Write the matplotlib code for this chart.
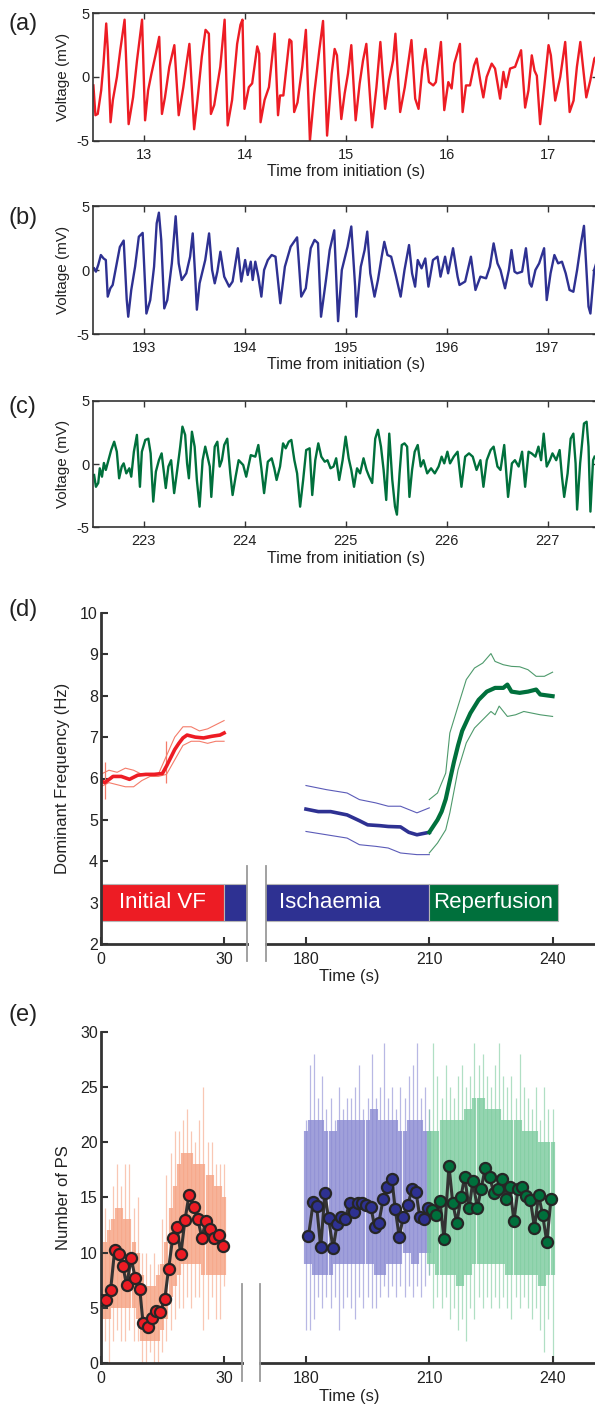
import matplotlib
matplotlib.use('Agg')
import matplotlib.pyplot as plt
from matplotlib.lines import Line2D

plt.rcParams['font.family'] = ['Liberation Sans', 'DejaVu Sans']
plt.rcParams['axes.unicode_minus'] = False

RED = '#ED1C24'
BLUE = '#2E3192'
GREEN = '#00703C'
AXC = '#333333'

# ---------------- (a) electrogram 12.5-17.5 s ----------------
ta = [12.501, 12.521, 12.544, 12.578, 12.601, 12.628, 12.644, 12.671, 12.694, 12.734,
      12.767, 12.810, 12.850, 12.894, 12.933, 12.953, 12.983, 13.013, 13.043, 13.076,
      13.120, 13.153, 13.180, 13.210, 13.253, 13.303, 13.346, 13.392, 13.419, 13.452,
      13.499, 13.532, 13.575, 13.612, 13.645, 13.665, 13.698, 13.758, 13.801, 13.831,
      13.875, 13.925, 13.958, 13.978, 13.998, 14.041, 14.074, 14.124, 14.144, 14.157,
      14.197, 14.240, 14.297, 14.330, 14.350, 14.383, 14.443, 14.463, 14.490, 14.523,
      14.570, 14.606, 14.646, 14.689, 14.739, 14.776, 14.816, 14.862,
      14.891, 14.914, 14.957, 14.990, 15.023, 15.056, 15.099, 15.139, 15.172, 15.205,
      15.262, 15.305, 15.344, 15.391, 15.430, 15.470, 15.493, 15.540, 15.586, 15.619,
      15.652, 15.689, 15.722, 15.762, 15.791, 15.825, 15.868, 15.894, 15.944, 15.977,
      16.017, 16.050, 16.076, 16.132, 16.159, 16.192, 16.232, 16.272, 16.298, 16.338,
      16.364, 16.397, 16.447, 16.480, 16.530, 16.563, 16.589, 16.629, 16.679, 16.738,
      16.778, 16.811, 16.844, 16.871, 16.894, 16.927, 16.967, 17.010, 17.033, 17.076,
      17.126, 17.175, 17.219, 17.258, 17.291, 17.325, 17.384, 17.424, 17.464, 17.52]
va = [-0.66, -3.0, -2.9, -1.05, 1.05, 4.2, 2.1, -3.55, -1.8, 0.0,
      2.1, 4.5, -3.7, -1.6, 1.3, 2.6, 4.5, -3.4, -1.05, 0.26,
      1.85, 3.15, -2.9, -1.6, 0.8, 2.5, -3.0, -0.8, 0.8, 2.6,
      -4.1, -1.8, 1.6, 3.7, 3.4, -2.9, -2.2, 0.8, 4.5, -3.8,
      -1.8, 2.6, 4.1, 4.5, -2.5, -0.8, -0.5, 2.4, 1.85, -3.55,
      -1.8, -0.8, 3.4, -3.0, -1.45, -1.45, 2.95, 2.8, -2.75, -2.0,
      0.8, 3.7, -5.0, -1.3, 2.1, 4.4, -4.6, 0.26,
      2.2, 1.7, -3.3, -1.3, 0.26, 2.5, -3.4, -0.5, 1.3, 2.6,
      -3.95, -0.8, 2.75, -2.5, -0.26, 1.3, 3.4, -2.75, -0.8, 1.05,
      2.9, -1.7, -2.5, 0.8, 2.2, -0.4, -0.66, -0.4, 2.75, -2.6,
      -0.4, -0.9, 1.05, 2.6, -2.75, -0.66, -0.66, 0.9, 1.45, -0.5,
      -1.6, 0.0, 1.05, 0.66, -1.7, 0.4, -0.8, 0.66, 0.8, 2.1,
      -2.4, -1.05, 1.7, 0.5, 0.1, -3.7, -0.8, 2.5, 1.7, -1.85,
      0.0, 2.75, -2.75, -1.85, 0.8, 2.75, -1.6, -0.26, 1.45, 1.9]

# ---------------- (b) electrogram 192.5-197.5 s ----------------
tb = [192.508, 192.526, 192.549, 192.575, 192.602, 192.624, 192.643, 192.669, 192.692, 192.726,
      192.763, 192.801, 192.831, 192.846, 192.876, 192.914, 192.951, 192.989, 193.026, 193.064,
      193.102, 193.128, 193.150, 193.173, 193.203, 193.233, 193.278, 193.316, 193.346, 193.376,
      193.421, 193.459, 193.485, 193.508, 193.526, 193.553, 193.609, 193.647, 193.677, 193.703,
      193.729, 193.759, 193.797, 193.846, 193.880, 193.932, 193.966, 194.004, 194.030, 194.060,
      194.079, 194.105, 194.135, 194.165, 194.192, 194.229, 194.267, 194.305, 194.353, 194.398,
      194.455, 194.519, 194.560, 194.605, 194.654, 194.692, 194.726, 194.756, 194.805, 194.842,
      194.887, 194.925, 194.962, 195.019, 195.056, 195.094, 195.105, 195.150, 195.188, 195.214,
      195.244, 195.286, 195.320, 195.357, 195.383, 195.414, 195.451, 195.496, 195.545, 195.583,
      195.628, 195.658, 195.688, 195.714, 195.752, 195.789, 195.820, 195.865, 195.910, 195.940,
      195.985, 196.015, 196.064, 196.109, 196.128, 196.184, 196.241, 196.286, 196.335, 196.391,
      196.429, 196.466, 196.504, 196.534, 196.579, 196.617, 196.643, 196.673, 196.699, 196.748,
      196.786, 196.823, 196.842, 196.880, 196.917, 196.966, 196.992, 197.030, 197.068, 197.105,
      197.143, 197.180, 197.218, 197.256, 197.293, 197.331, 197.361, 197.406, 197.425, 197.462, 197.52]
vb = [0.13, -0.13, 0.4, 1.17, 0.9, 0.78, -2.08, -1.43, -1.17, 0.26,
      1.8, 2.3, -2.3, -3.65, -1.56, 0.26, 2.6, 2.9, -3.4, -2.35,
      0.26, 3.65, 4.48, 2.35, -3.0, -2.35, 0.52, 4.2, 0.52, -0.78,
      -0.26, 1.04, 2.86, -0.26, -3.1, -1.04, 0.78, 2.86, 0.0, -1.04,
      -0.13, 1.43, -0.52, -1.3, -0.9, 1.7, -0.9, 0.78, -0.39, 0.65,
      -0.78, 0.65, -0.52, -2.08, 0.0, 0.78, 1.17, 1.04, -2.6, 0.26,
      1.82, 2.55, -2.08, -1.43, 1.7, 2.35, 2.1, -3.65, -0.78, 1.56,
      3.1, -4.0, 0.0, 1.82, 3.4, -1.3, -3.65, 0.26, 1.56, 3.0,
      -0.26, -2.08, -0.78, 1.04, 2.2, 1.17, 1.04, -0.39, -2.08, 0.0,
      1.95, -0.26, -1.3, 0.78, 0.13, 0.9, -1.3, 0.78, 1.04, -0.52,
      1.04, -0.26, 1.7, -0.52, -1.17, -0.9, 1.04, -1.56, -0.52, -0.65,
      0.26, 2.08, 0.52, 0.0, -1.43, 0.0, 1.56, -0.13, -0.26, -0.13,
      1.7, -1.04, -1.3, 0.0, 0.52, 1.7, -2.35, -0.26, 1.17, 0.52,
      0.65, -0.26, -1.56, -1.7, 0.0, 2.08, 3.45, -2.86, -3.4, 0.0, 1.5]

# ---------------- (c) electrogram 222.5-227.5 s ----------------
tc = [222.508, 222.526, 222.549, 222.564, 222.586, 222.605, 222.624, 222.650, 222.677, 222.707,
      222.733, 222.756, 222.782, 222.801, 222.827, 222.857, 222.876, 222.902, 222.932, 222.962,
      222.981, 223.015, 223.045, 223.068, 223.094, 223.120, 223.150, 223.177, 223.195, 223.218,
      223.244, 223.271, 223.301, 223.331, 223.361, 223.383, 223.410, 223.429, 223.447, 223.477,
      223.504, 223.526, 223.553, 223.583, 223.609, 223.628, 223.654, 223.669, 223.703, 223.729,
      223.752, 223.774, 223.797, 223.827, 223.857, 223.880, 223.910, 223.940, 223.985, 224.015,
      224.060, 224.105, 224.135, 224.165, 224.192, 224.229, 224.267, 224.293, 224.316, 224.350,
      224.380, 224.406, 224.436, 224.462, 224.492, 224.519, 224.549, 224.579, 224.609, 224.643,
      224.669, 224.699, 224.729, 224.759, 224.793, 224.820, 224.850, 224.880, 224.906, 224.936,
      224.970, 225.000, 225.030, 225.056, 225.083, 225.113, 225.143, 225.177, 225.207, 225.233,
      225.263, 225.293, 225.320, 225.350, 225.376, 225.402, 225.432, 225.462, 225.489, 225.508,
      225.534, 225.556, 225.583, 225.609, 225.632, 225.658, 225.684, 225.714, 225.744, 225.771,
      225.808, 225.846, 225.883, 225.921, 225.951, 225.977, 226.008, 226.034, 226.071, 226.109,
      226.147, 226.184, 226.222, 226.259, 226.297, 226.335, 226.365, 226.398, 226.436, 226.466,
      226.504, 226.534, 226.571, 226.609, 226.647, 226.677, 226.714, 226.748, 226.778, 226.812,
      226.842, 226.880, 226.910, 226.936, 226.962, 226.992, 227.023, 227.049, 227.086, 227.120,
      227.143, 227.165, 227.199, 227.229, 227.256, 227.278, 227.293, 227.323, 227.361, 227.387,
      227.406, 227.425, 227.451, 227.466]
vc = [-0.87, -1.8, -1.5, -0.34, -1.0, 0.08, -0.47, 0.3, 1.1, 1.76,
      0.97, -1.13, -0.2, 0.05, -0.74, -0.34, -1.0, 0.97, 2.3, -1.8,
      0.97, 1.9, 2.0, 0.84, -2.97, -0.6, 0.3, 0.84, -0.34, -1.9,
      -0.2, 0.3, -2.3, -0.5, 1.37, 2.95, 2.3, 0.05, -1.13, 2.55,
      1.37, -1.26, -3.37, 0.3, 1.37, 0.7, -0.2, -2.6, 1.37, 1.76,
      -0.2, 0.3, 1.5, 2.0, -0.74, -2.45, -1.0, 0.3, -0.08, -1.0,
      0.7, 0.58, 1.5, -0.34, -2.3, 0.18, 0.45, -0.34, -1.26, -0.2,
      1.63, 1.24, 1.76, 1.9, 0.3, -0.74, -3.37, -1.26, 1.1, 1.24,
      -2.45, 0.3, 1.63, 0.58, 0.18, 0.3, -0.34, -0.2, 0.45, -1.26,
      0.3, 2.16, 0.45, -0.47, -1.8, -0.34, -0.74, 0.45, -0.47, -1.0,
      -1.5, 2.0, 2.7, 1.37, -0.47, -2.84, 2.4, -1.26, -3.37, -4.0,
      -0.74, 1.5, 1.63, 1.37, -2.6, -0.47, 0.97, 1.5, -0.2, 0.3,
      -0.74, -0.34, -0.74, -0.2, 0.58, 0.05, 0.97, 0.05, 0.58, 0.97,
      -1.8, 0.58, 0.84, 0.58, -0.47, 0.3, -1.8, 0.3, 1.1, 1.37,
      -0.2, -0.47, 1.5, -2.6, 0.05, 0.3, -0.2, 0.97, -1.8, 0.97,
      0.84, 0.58, 1.37, 0.3, 2.4, -0.2, 0.3, 0.84, 0.3, 1.1,
      -1.0, -2.6, -0.74, 2.0, 2.4, 0.05, -3.6, 0.05, 3.2, 3.34,
      1.37, -3.76, 0.3, 0.58]

# ---------------- (d) dominant frequency ----------------
phase_names = ['Initial VF', 'Ischaemia', 'Reperfusion']
phase_start = [0, 30, 210]
phase_end = [30, 210, 241.2]
phase_cols = [RED, BLUE, GREEN]

red_t = [0, 1, 3, 5, 7, 9, 11, 13, 15, 16, 17, 18, 19, 20, 21, 23, 25, 27, 29, 30]
red_mean = [5.95, 5.9, 6.05, 6.05, 5.98, 6.08, 6.1, 6.1, 6.12, 6.3,
            6.5, 6.7, 6.85, 6.98, 7.05, 7.0, 6.98, 7.02, 7.05, 7.1]
red_bt = [0, 2, 4, 6, 8, 10, 12, 14, 16, 18, 20, 22, 24, 26, 28, 30]
red_hi = [6.1, 6.2, 6.15, 6.25, 6.2, 6.1, 6.1, 6.1, 6.55, 7.0, 7.25, 7.25, 7.15, 7.2, 7.3, 7.4]
red_lo = [5.8, 5.9, 5.85, 5.8, 5.8, 5.95, 6.05, 6.05, 6.1, 6.45, 6.8, 6.9, 6.9, 6.85, 6.9, 6.9]
red_spk_t = [1.1, 15.8]
red_spk_lo = [5.5, 5.9]
red_spk_hi = [6.4, 6.9]

blue_t = [180, 183, 186, 190, 193, 195, 198, 200, 203, 205, 207, 210]
blue_mean = [5.26, 5.2, 5.2, 5.12, 4.98, 4.88, 4.86, 4.84, 4.83, 4.7, 4.64, 4.7]
blue_bt = [180, 185, 190, 193, 197, 200, 203, 207, 210]
blue_hi = [5.83, 5.73, 5.65, 5.49, 5.41, 5.33, 5.33, 5.17, 5.29]
blue_lo = [4.72, 4.64, 4.56, 4.4, 4.36, 4.32, 4.2, 4.16, 4.16]

green_t = [210, 212, 213, 214, 215, 216, 217, 218, 220, 222,
           224, 226, 228, 229, 230, 232, 234, 236, 237, 240]
green_mean = [4.7, 5.0, 5.2, 5.5, 5.95, 6.4, 6.8, 7.15, 7.58, 7.9,
              8.1, 8.19, 8.19, 8.27, 8.1, 8.07, 8.1, 8.15, 8.03, 7.99]
green_ht = [210, 212, 214, 215, 217, 219, 221, 223, 225, 226, 228, 230, 232, 234, 236, 238, 240]
green_hi = [5.49, 5.65, 6.13, 7.1, 7.75, 8.39, 8.67, 8.79, 9.02, 8.83, 8.75, 8.71, 8.7, 8.63, 8.47, 8.47, 8.57]
green_lt = [210, 212, 214, 215, 217, 219, 221, 223, 225, 226, 227, 229, 231, 233, 235, 237, 240]
green_lo = [4.2, 4.44, 4.76, 5.17, 6.21, 6.86, 7.22, 7.42, 7.62, 7.54, 7.75, 7.5, 7.54, 7.62, 7.58, 7.54, 7.5]

# ---------------- (e) number of phase singularities ----------------
ps_red_t = [0.0, 1.3, 2.4, 3.4, 4.4, 5.4, 6.3, 7.4, 8.4, 9.5, 10.3, 11.4, 12.4, 13.5, 14.5,
            15.6, 16.5, 17.5, 18.5, 19.5, 20.5, 21.5, 22.6, 23.6, 24.6, 25.6, 26.6, 27.6, 28.7, 29.7]
ps_red = [5.67, 5.73, 6.57, 10.25, 9.86, 8.8, 7.02, 9.47, 7.72, 6.69, 3.62, 3.26, 4.07, 4.7, 4.58,
          5.82, 8.5, 11.28, 12.3, 9.86, 12.96, 15.25, 14.14, 13.08, 11.34, 12.9, 12.15, 11.3, 11.6, 10.55]
ps_blue_t = [180.6, 181.8, 182.6, 183.6, 184.6, 185.5, 186.6, 187.6, 188.5, 189.6,
             190.6, 191.7, 192.7, 193.7, 194.7, 195.8, 196.7, 197.7, 198.8, 199.7,
             200.9, 201.7, 202.7, 203.7, 204.8, 205.8, 206.8, 207.7, 208.8, 209.8]
ps_blue = [11.46, 14.6, 14.2, 10.46, 15.35, 13.1, 10.37, 12.6, 13.26, 13.08,
           14.47, 13.63, 14.47, 14.47, 14.32, 14.14, 12.36, 12.66, 14.86, 15.9,
           16.7, 13.99, 11.43, 13.26, 14.32, 15.74, 15.44, 13.2, 13.0, 14.0]
ps_green_t = [210.7, 211.7, 212.6, 213.6, 214.8, 215.7, 216.7, 217.7, 218.6, 219.7,
              220.6, 221.7, 222.6, 223.6, 224.7, 225.7, 226.7, 227.7, 228.7, 229.6,
              230.6, 231.6, 232.6, 233.6, 234.6, 235.6, 236.6, 237.6, 238.6, 239.6]
ps_green = [13.87, 13.4, 14.7, 11.2, 17.85, 14.53, 12.66, 15.0, 16.88, 14.0,
            16.46, 14.02, 15.74, 17.64, 16.88, 15.38, 15.8, 16.7, 14.83, 15.98,
            12.87, 15.8, 15.98, 15.16, 14.77, 12.24, 15.22, 13.36, 10.94, 14.83]

# raw PS counts, read per second: outer extremes and the dense core band
raw_red_t = list(range(0, 31))
raw_red_max = [12, 14, 13, 16, 18, 16, 18, 18, 14, 15, 10, 10, 9, 10, 9, 13,
               17, 19, 21, 21, 22, 23, 21, 20, 22, 25, 20, 20, 18, 18, 18]
raw_red_min = [2, 2, 0, 2, 3, 2, 2, 3, 2, 2, 0, 0, 1, 0, 0, 1,
               2, 3, 4, 5, 5, 6, 5, 6, 6, 3, 4, 6, 4, 4, 7]
core_red_hi = [10, 11, 12, 13, 14, 14, 13, 13, 11, 10, 8, 7, 7, 7, 8, 9,
               11, 14, 16, 18, 19, 19, 19, 18, 18, 18, 17, 17, 16, 16, 15]
core_red_lo = [4, 4, 4, 5, 5, 5, 5, 5, 5, 4, 2, 2, 2, 2, 2, 3,
               4, 6, 7, 8, 9, 9, 9, 9, 9, 8, 8, 8, 8, 8, 8]

raw_blue_t = list(range(180, 211))
raw_blue_max = [22, 27, 28, 24, 26, 23, 24, 22, 25, 23, 24, 24, 25, 27, 23, 24,
                28, 24, 25, 29, 24, 25, 23, 25, 24, 26, 27, 29, 24, 25, 23]
raw_blue_min = [3, 3, 4, 6, 5, 6, 5, 6, 3, 5, 6, 5, 4, 6, 5, 6,
                5, 5, 6, 7, 6, 7, 6, 7, 6, 7, 6, 7, 6, 7, 8]
core_blue_hi = [21, 22, 22, 22, 22, 21, 21, 21, 22, 22, 22, 22, 22, 22, 22, 22,
                23, 23, 22, 22, 22, 22, 22, 21, 21, 22, 22, 22, 22, 21, 21]
core_blue_lo = [9, 9, 8, 8, 8, 8, 8, 9, 9, 9, 9, 9, 9, 9, 9, 9,
                9, 8, 8, 8, 9, 9, 9, 9, 10, 10, 9, 9, 10, 10, 10]

raw_green_t = list(range(210, 241))
raw_green_max = [23, 29, 26, 24, 27, 25, 24, 26, 27, 25, 26, 29, 27, 28, 26, 25,
                 27, 29, 26, 25, 26, 24, 28, 25, 24, 23, 25, 22, 25, 23, 23]
raw_green_min = [8, 5, 6, 5, 6, 4, 5, 3, 4, 2, 5, 4, 6, 5, 6, 5,
                 6, 5, 6, 5, 4, 6, 5, 6, 5, 4, 5, 3, 1, 4, 0]
core_green_hi = [21, 21, 21, 22, 22, 22, 22, 22, 22, 23, 23, 24, 24, 24, 23, 23,
                 23, 23, 22, 22, 22, 22, 22, 21, 21, 21, 21, 20, 20, 20, 20]
core_green_lo = [9, 9, 8, 8, 8, 8, 8, 7, 7, 8, 8, 9, 9, 9, 9, 9,
                 9, 9, 9, 8, 8, 8, 8, 8, 8, 8, 8, 7, 7, 8, 8]

W, H = 595, 1408
fig = plt.figure(figsize=(W / 100, H / 100), dpi=100)


def box(x0, y0, x1, y1):
    # pixel box measured from the top left corner
    return [x0 / W, 1 - y1 / H, (x1 - x0) / W, (y1 - y0) / H]


def panel_label(txt, y):
    fig.text(8 / W, 1 - y / H, txt, fontsize=17, ha='left', va='center', color='#222222')


# ---- panels (a)-(c) ----
traces = [(ta, va, RED, (12.5, 17.5), [13, 14, 15, 16, 17], 13.3, 140.7, '(a)', 24),
          (tb, vb, BLUE, (192.5, 197.5), [193, 194, 195, 196, 197], 206, 334, '(b)', 218),
          (tc, vc, GREEN, (222.5, 227.5), [223, 224, 225, 226, 227], 400.7, 527.3, '(c)', 407)]
for t, v, col, xl, xt, top, bot, lab, ly in traces:
    ax = fig.add_axes(box(93.3, top, 598, bot))
    ax.plot(t, v, color=col, lw=1.7, solid_joinstyle='round')
    ax.set_xlim(xl)
    ax.set_ylim(-5, 5)
    ax.set_xticks(xt)
    ax.set_yticks([-5, 0, 5])
    ax.tick_params(direction='in', top=True, right=True, length=4, width=1,
                   color=AXC, labelcolor='#222222', labelsize=10.5)
    ax.tick_params(axis='x', pad=5)
    ax.tick_params(axis='y', pad=2.5)
    for s in ax.spines.values():
        s.set_color(AXC)
        s.set_linewidth(1.2)
    ax.set_xlabel('Time from initiation (s)', fontsize=11.5, color='#222222', va='center')
    ax.xaxis.set_label_coords(0.5, -31 / (bot - top))
    ax.set_ylabel('Voltage (mV)', fontsize=11, color='#222222', va='center')
    ax.yaxis.set_label_coords((63 - 93.3) / (598 - 93.3), 0.5)
    panel_label(lab, ly)


def broken_axes(top, bot, brk0, brk1, lstop, rstart):
    axl = fig.add_axes(box(100.7, top, brk0, bot))
    axr = fig.add_axes(box(brk1, top, 597.8, bot))
    axl.set_xlim(0, lstop)
    axr.set_xlim(rstart, 251)
    for a in (axl, axr):
        for side in ('top', 'right'):
            a.spines[side].set_visible(False)
        for s in a.spines.values():
            s.set_color(AXC)
            s.set_linewidth(2.0)
        a.tick_params(direction='in', length=5, width=1.5, color=AXC,
                      labelcolor='#222222', labelsize=11.5)
        a.tick_params(axis='x', pad=6)
        a.tick_params(axis='y', pad=2)
        a.set_facecolor('none')
    axr.spines['left'].set_visible(False)
    axr.tick_params(axis='y', left=False, labelleft=False)
    axl.set_xticks([0, 30])
    axr.set_xticks([180, 210, 240])
    return axl, axr


def break_marks(x0, x1, y0, y1):
    for x in (x0, x1):
        fig.add_artist(Line2D([x / W, x / W], [1 - y0 / H, 1 - y1 / H],
                              color='#9a9a9a', lw=1.3))


# ---- panel (d) ----
dl, dr = broken_axes(613, 944, 246.7, 265.7, 35.5, 170.2)
for a in (dl, dr):
    a.set_ylim(2, 10)
    for s, e, c in zip(phase_start, phase_end, phase_cols):
        a.barh(3, e - s, left=s, height=0.9, color=c, edgecolor='#b5b5b5', lw=0.8, zorder=2)
dl.set_yticks(range(2, 11))
dl.text(15, 3, phase_names[0], color='white', fontsize=16, ha='center', va='center', zorder=3)
dr.text(173.4, 3, phase_names[1], color='white', fontsize=16, ha='left', va='center', zorder=3)
dr.text(225.6, 3, phase_names[2], color='white', fontsize=16, ha='center', va='center', zorder=3)

dl.plot(red_bt, red_hi, color='#F47C6A', lw=0.8)
dl.plot(red_bt, red_lo, color='#F47C6A', lw=0.8)
dl.vlines(red_spk_t, red_spk_lo, red_spk_hi, color='#F47C6A', lw=0.9)
dl.plot(red_t, red_mean, color=RED, lw=2.6)
dr.plot(blue_bt, blue_hi, color='#5B5BB8', lw=0.8)
dr.plot(blue_bt, blue_lo, color='#5B5BB8', lw=0.8)
dr.plot(blue_t, blue_mean, color=BLUE, lw=2.6)
dr.plot(green_ht, green_hi, color='#4E9A6C', lw=0.8)
dr.plot(green_lt, green_lo, color='#4E9A6C', lw=0.8)
dr.plot(green_t, green_mean, color=GREEN, lw=3.0)

dl.set_ylabel('Dominant Frequency (Hz)', fontsize=12, color='#222222', va='center')
dl.yaxis.set_label_coords((63 - 100.7) / (246.7 - 100.7), 0.5)
fig.text(349 / W, 1 - 976 / H, 'Time (s)', fontsize=12, ha='center', va='center', color='#222222')
break_marks(246.7, 265.7, 866, 961)
panel_label('(d)', 610)

# ---- panel (e) ----
el, er = broken_axes(1031.7, 1363, 241.7, 260.3, 34.3, 168.9)
for a in (el, er):
    a.set_ylim(0, 30)
el.set_yticks(range(0, 31, 5))

noise = [(el, raw_red_t, raw_red_min, raw_red_max, core_red_lo, core_red_hi, '#F6A282'),
         (er, raw_blue_t, raw_blue_min, raw_blue_max, core_blue_lo, core_blue_hi, '#8A8AD2'),
         (er, raw_green_t, raw_green_min, raw_green_max, core_green_lo, core_green_hi, '#7CCB9E')]
for a, rt, rmin, rmax, clo, chi, col in noise:
    a.vlines(rt, rmin, rmax, color=col, lw=0.9, alpha=0.6, zorder=1)
    a.vlines(rt, clo, chi, color=col, lw=3.0, alpha=0.8, zorder=1)

el.plot(ps_red_t, ps_red, color='#333333', lw=2.2, zorder=3)
er.plot(ps_blue_t + ps_green_t, ps_blue + ps_green, color='#333333', lw=2.2, zorder=3)
for a, t, v, c in [(el, ps_red_t, ps_red, RED), (er, ps_blue_t, ps_blue, BLUE),
                   (er, ps_green_t, ps_green, GREEN)]:
    a.plot(t, v, 'o', ms=8, mfc=c, mec='#262626', mew=1.6, zorder=4)

el.set_ylabel('Number of PS', fontsize=12, color='#222222', va='center')
el.yaxis.set_label_coords((63 - 100.7) / (241.7 - 100.7), 0.5)
fig.text(349 / W, 1 - 1397 / H, 'Time (s)', fontsize=12, ha='center', va='center', color='#222222')
break_marks(241.7, 260.3, 1284, 1380.7)
panel_label('(e)', 1015)

fig.savefig('out.png', dpi=100)
